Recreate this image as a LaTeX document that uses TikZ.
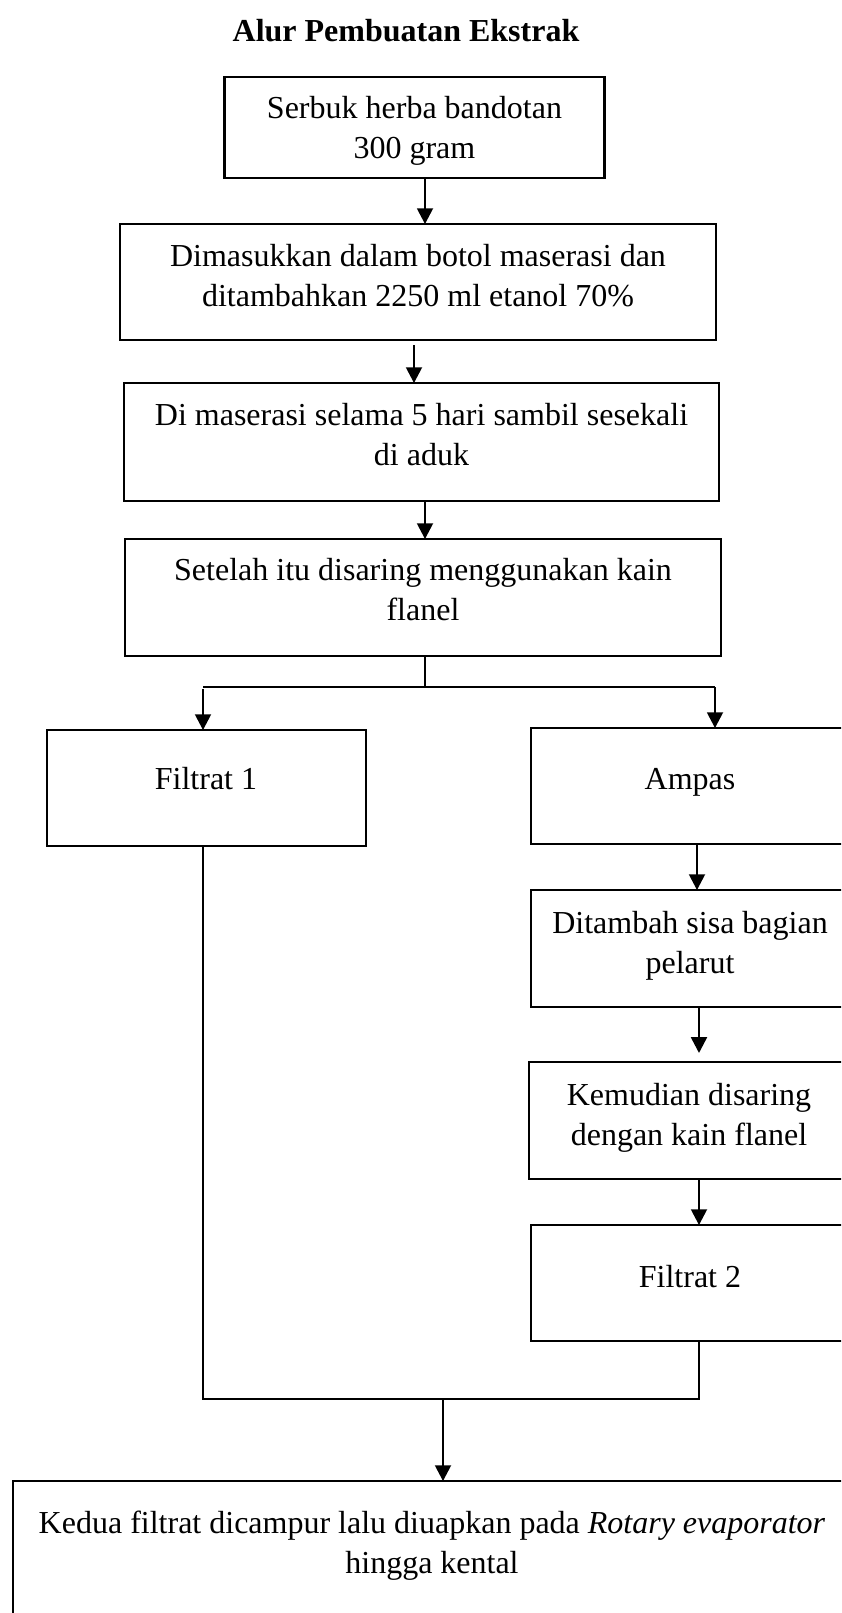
\documentclass[tikz,border=0pt]{standalone}
\usepackage{fontspec}
\setmainfont{Liberation Serif}
\usetikzlibrary{arrows.meta}
\newcommand{\pxbox}[5]{\node[boxst, minimum width={(#3-#2)*0.375pt}, minimum height={(#5-#4)*0.375pt}] (#1) at ({(#2+#3)/2},{(#4+#5)/2}) {};}
\begin{document}
\begin{tikzpicture}[x=0.375pt, y=-0.375pt,
  boxst/.style={draw, rectangle, line width=0.85pt, inner sep=0pt, outer sep=0pt},
  txt/.style={anchor=base, align=center, inner sep=0pt, font=\fontsize{12pt}{15pt}\selectfont},
  arr/.style={line width=0.7pt, -{Triangle[width=6pt,length=5.9pt]}},
  thinln/.style={line width=0.4pt}]
\fill[white] (0,0) rectangle (841,1613);
\clip (0,0) rectangle (841,1613);
% title
\node[txt, font=\fontsize{12pt}{15pt}\selectfont\bfseries] (title) at (406,41) {Alur Pembuatan Ekstrak};
% boxes
\pxbox{b1}{224.5}{604.5}{77}{178}
\pxbox{b2}{120}{716}{224}{340}
\pxbox{b3}{124}{719}{383}{501}
\pxbox{b4}{125}{721}{539}{656}
\pxbox{f1}{47}{366}{730}{846}
\pxbox{amp}{531}{849}{728}{844}
\pxbox{dit}{531}{849}{890}{1007}
\pxbox{kem}{529}{849}{1062}{1179}
\pxbox{f2}{531}{849}{1225}{1341}
\pxbox{fin}{13}{851}{1481}{1700}
% texts (base anchor = baseline of last line)
\node[txt] (t1) at (414.5,158) {Serbuk herba bandotan\\300 gram};
\node[txt] (t2) at (418,306) {Dimasukkan dalam botol maserasi dan\\ditambahkan 2250 ml etanol 70\%};
\node[txt] (t3) at (421.5,465) {Di maserasi selama 5 hari sambil sesekali\\di aduk};
\node[txt] (t4) at (423,620) {Setelah itu disaring menggunakan kain\\flanel};
\node[txt] (t5) at (206,789) {Filtrat 1};
\node[txt] (t6) at (690,789) {Ampas};
\node[txt] (t7) at (690,973) {Ditambah sisa bagian\\pelarut};
\node[txt] (t8) at (689,1145) {Kemudian disaring\\dengan kain flanel};
\node[txt] (t9) at (690,1287) {Filtrat 2};
\node[txt] (t10) at (432,1573) {Kedua filtrat dicampur lalu diuapkan pada \textit{Rotary evaporator}\\hingga kental};
% helper coordinates
\coordinate (xa) at (425,0);
\coordinate (xb) at (414,0);
\coordinate (split) at (425,687);
\coordinate (sl) at (203,687);
\coordinate (sr) at (715,687);
\coordinate (xr1) at (697,0);
\coordinate (xr2) at (699,0);
\coordinate (ml) at (203,1399);
\coordinate (mr) at (699,1399);
\coordinate (mm) at (443,1399);
% connectors
\draw[arr] (b1.south -| xa) -- (b2.north -| xa);
\draw[arr] ([yshift=-1.9pt]b2.south -| xb) -- (b3.north -| xb);
\draw[arr] (b3.south -| xa) -- (b4.north -| xa);
\draw[thinln] (b4.south -| split) -- (split);
\draw[thinln] (sl) -- (sr);
\draw[arr] ([yshift=-0.7pt]sl) -- (f1.north -| sl);
\draw[arr] (sr) -- (amp.north -| sr);
\draw[arr] (amp.south -| xr1) -- (dit.north -| xr1);
\draw[arr] (dit.south -| xr2) -- ([yshift=3.4pt]kem.north -| xr2);
\draw[arr] (kem.south -| xr2) -- (f2.north -| xr2);
\draw[thinln] (f1.south -| ml) -- (ml) -- (mr) -- (f2.south -| mr);
\draw[arr] (mm) -- (fin.north -| mm);
\end{tikzpicture}
\end{document}
